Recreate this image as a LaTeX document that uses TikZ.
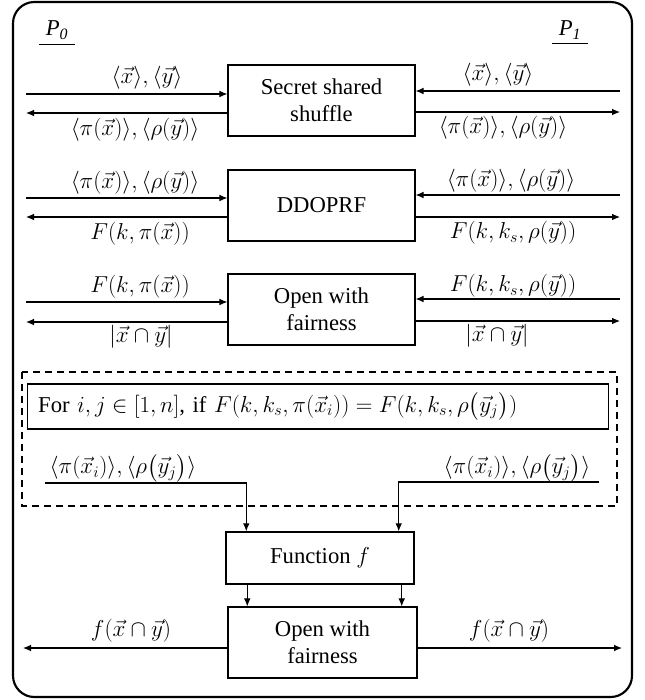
\documentclass[tikz,border=0pt]{standalone}
\usepackage{amsmath}
\usepackage{fontspec}
\setmainfont{Liberation Serif}
\usetikzlibrary{calc,positioning,arrows.meta}

\begin{document}
\begin{tikzpicture}[x=0.75pt, y=-0.75pt, font=\fontsize{17}{20}\selectfont,
    box/.style={draw, line width=1.1pt, align=center, minimum width=140pt, minimum height=53pt, inner sep=2pt},
    flow/.style={line width=0.8pt, -{Latex[length=6pt,width=5pt]}}]
    \useasboundingbox (0,0) rectangle (644,700);
    \draw [line width=1.6pt, rounded corners=16pt] (13,2) rectangle (632,697);
    % parties
    \node [inner xsep=5pt] (p0) at (57,30) {\itshape P\textsubscript{0}};
    \node [inner xsep=5pt] (p1) at (570,30) {\itshape P\textsubscript{1}};
    \draw [line width=0.6pt] (p0.south west) -- (p0.south east);
    \draw [line width=0.6pt] (p1.south west) -- (p1.south east);
    % protocol steps
    \node [box] (shuffle) at (321.5,100.5) {Secret shared\\shuffle};
    \node [box] (oprf) at (321.5,205.5) {DDOPRF};
    \node [box] (open) at (321.5,309.5) {Open with\\fairness};
    \node [box, minimum width=141pt, minimum height=39pt] (func) at (320,558) {Function $f$};
    \node [box, minimum width=141.75pt] (reveal) at (322.5,642.5) {Open with\\fairness};
    \node [draw, line width=0.8pt, anchor=west, minimum height=33.75pt, text width=420pt, align=left, inner xsep=8pt] (cond) at (27,406.5)
      {For $i,j\in[1,n]$, if $F(k,k_s,\pi(\vec{x}_i))=F(k,k_s,\rho\bigl(\vec{y}_j\bigr))$};
    \draw [dashed, line width=1pt, dash pattern=on 5.5pt off 3.5pt] (22,372) rectangle (617,506);
    % free ends
    \coordinate (a1) at (26,94);   \coordinate (a2) at (26,113);
    \coordinate (b1) at (620,91);  \coordinate (b2) at (620,112);
    \coordinate (a3) at (26,198);  \coordinate (a4) at (26,217);
    \coordinate (b3) at (620,195); \coordinate (b4) at (620,217);
    \coordinate (a5) at (26,302);  \coordinate (a6) at (26,322);
    \coordinate (b5) at (620,299); \coordinate (b6) at (620,321);
    \coordinate (c1) at (45,483);  \coordinate (c2) at (599,482);
    \coordinate (d1) at (23,648);  \coordinate (d2) at (622,648);
    % step 1
    \draw [flow] (a1) -- (a1 -| shuffle.west);
    \draw [flow] (a2 -| shuffle.west) -- (a2);
    \draw [flow] (b1) -- (b1 -| shuffle.east);
    \draw [flow] (b2 -| shuffle.east) -- (b2);
    \node (sin0) at (147,78) {$\langle\vec{x}\rangle,\langle\vec{y}\rangle$};
    \node (sout0) at (135,130) {$\langle\pi(\vec{x})\rangle,\langle\rho(\vec{y})\rangle$};
    \node (sin1) at (498,75) {$\langle\vec{x}\rangle,\langle\vec{y}\rangle$};
    \node (sout1) at (503,128) {$\langle\pi(\vec{x})\rangle,\langle\rho(\vec{y})\rangle$};
    % step 2
    \draw [flow] (a3) -- (a3 -| oprf.west);
    \draw [flow] (a4 -| oprf.west) -- (a4);
    \draw [flow] (b3) -- (b3 -| oprf.east);
    \draw [flow] (b4 -| oprf.east) -- (b4);
    \node (oin0) at (135,183) {$\langle\pi(\vec{x})\rangle,\langle\rho(\vec{y})\rangle$};
    \node (oout0) at (140,234) {$F(k,\pi(\vec{x}))$};
    \node (oin1) at (511,181) {$\langle\pi(\vec{x})\rangle,\langle\rho(\vec{y})\rangle$};
    \node (oout1) at (513,233) {$F(k,k_s,\rho(\vec{y}))$};
    % step 3
    \draw [flow] (a5) -- (a5 -| open.west);
    \draw [flow] (a6 -| open.west) -- (a6);
    \draw [flow] (b5) -- (b5 -| open.east);
    \draw [flow] (b6 -| open.east) -- (b6);
    \node (fin0) at (140,287) {$F(k,\pi(\vec{x}))$};
    \node (fout0) at (141,337) {$|\vec{x}\cap\vec{y}|$};
    \node (fin1) at (513,286) {$F(k,k_s,\rho(\vec{y}))$};
    \node (fout1) at (497,336) {$|\vec{x}\cap\vec{y}|$};
    % matched pairs
    \node (m0) at (123,468) {$\langle\pi(\vec{x}_i)\rangle,\langle\rho\bigl(\vec{y}_j\bigr)\rangle$};
    \node (m1) at (517,468) {$\langle\pi(\vec{x}_i)\rangle,\langle\rho\bigl(\vec{y}_j\bigr)\rangle$};
    \draw [flow] (c1) -| ($(func.north west)+(21,0)$);
    \draw [flow] (c2) -| ($(func.north east)+(-16,0)$);
    \draw [flow] ($(func.south west)+(22,0)$) -- ($(reveal.north west)+(20,0)$);
    \draw [flow] ($(func.south east)+(-13,0)$) -- ($(reveal.north east)+(-16,0)$);
    % output
    \draw [flow] (d1 -| reveal.west) -- (d1);
    \draw [flow] (d2 -| reveal.east) -- (d2);
    \node (r0) at (131,631) {$f(\vec{x}\cap\vec{y})$};
    \node (r1) at (509,631) {$f(\vec{x}\cap\vec{y})$};
\end{tikzpicture}
\end{document}
